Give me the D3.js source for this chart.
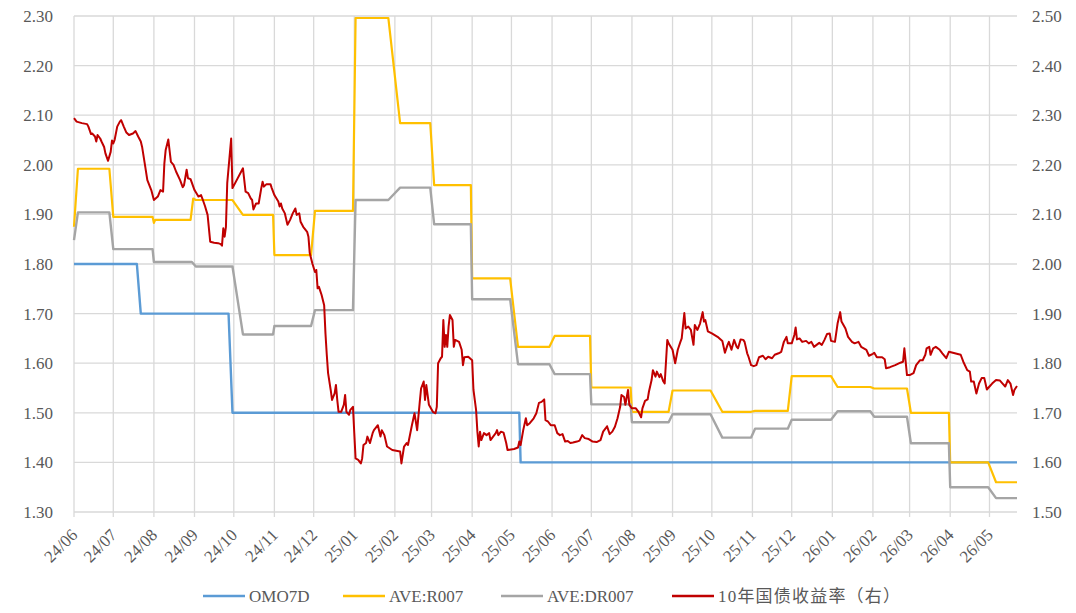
<!DOCTYPE html>
<html>
<head>
<meta charset="utf-8">
<script src="https://cdn.jsdelivr.net/npm/d3@7"></script>
<style>
  body { margin: 0; background: #fff; }
  #chart { width: 1076px; height: 613px; }
</style>
</head>
<body>
<div id="chart"></div>
<script>
// month tick labels on the x axis
var monthLabels = ["24/06","24/07","24/08","24/09","24/10","24/11","24/12","25/01","25/02","25/03","25/04","25/05",
                   "25/06","25/07","25/08","25/09","25/10","25/11","25/12","26/01","26/02","26/03","26/04","26/05"];
var monthStarts = ["2024-06-01","2024-07-01","2024-08-01","2024-09-01","2024-10-01","2024-11-01","2024-12-01",
                   "2025-01-01","2025-02-01","2025-03-01","2025-04-01","2025-05-01","2025-06-01","2025-07-01",
                   "2025-08-01","2025-09-01","2025-10-01","2025-11-01","2025-12-01","2026-01-01","2026-02-01",
                   "2026-03-01","2026-04-01","2026-05-01"];
var leftTicks = [1.30,1.40,1.50,1.60,1.70,1.80,1.90,2.00,2.10,2.20,2.30];
var rightTicks = [1.50,1.60,1.70,1.80,1.90,2.00,2.10,2.20,2.30,2.40,2.50];

var seriesNames = ["OMO7D", "AVE:R007", "AVE:DR007", "10年国债收益率（右）"];
var seriesColors = ["#5B9BD5", "#FFC000", "#A5A5A5", "#C00000"];

// OMO 7-day reverse repo rate (left axis)
var omo7d = [["2024-06-01",1.80],["2024-07-19",1.80],["2024-07-22",1.70],["2024-09-27",1.70],["2024-09-30",1.50],
             ["2025-05-07",1.50],["2025-05-08",1.40],["2026-05-22",1.40]];

// R007 monthly average (left axis)
var r007 = [["2024-06-01",1.875],["2024-06-04",1.992],["2024-06-28",1.992],["2024-07-01",1.895],["2024-07-31",1.895],
            ["2024-08-01",1.883],["2024-08-02",1.889],["2024-08-29",1.889],["2024-08-31",1.932],["2024-09-02",1.929],
            ["2024-09-30",1.929],["2024-10-08",1.899],["2024-10-31",1.899],["2024-11-01",1.818],["2024-11-29",1.818],
            ["2024-12-02",1.907],["2024-12-31",1.907],["2025-01-02",2.296],["2025-01-27",2.296],["2025-02-05",2.084],
            ["2025-02-28",2.084],["2025-03-03",1.959],["2025-03-31",1.959],["2025-04-01",1.771],["2025-04-30",1.771],
            ["2025-05-06",1.633],["2025-05-30",1.633],["2025-06-03",1.655],["2025-06-30",1.655],["2025-07-01",1.551],
            ["2025-07-31",1.551],["2025-08-01",1.502],["2025-08-29",1.502],["2025-09-01",1.545],["2025-09-30",1.545],
            ["2025-10-09",1.502],["2025-10-31",1.502],["2025-11-03",1.504],["2025-11-28",1.504],["2025-12-01",1.574],
            ["2025-12-31",1.574],["2026-01-05",1.552],["2026-01-30",1.552],["2026-02-02",1.549],["2026-02-27",1.549],
            ["2026-03-02",1.500],["2026-03-31",1.500],["2026-04-01",1.400],["2026-04-30",1.400],["2026-05-06",1.360],
            ["2026-05-22",1.360]];

// DR007 monthly average (left axis)
var dr007 = [["2024-06-01",1.848],["2024-06-04",1.904],["2024-06-28",1.904],["2024-07-01",1.830],["2024-07-31",1.830],
             ["2024-08-01",1.804],["2024-08-30",1.804],["2024-09-02",1.795],["2024-09-30",1.795],["2024-10-08",1.658],
             ["2024-10-31",1.658],["2024-11-01",1.675],["2024-11-29",1.675],["2024-12-02",1.707],["2024-12-31",1.707],
             ["2025-01-02",1.929],["2025-01-27",1.929],["2025-02-05",1.954],["2025-02-28",1.954],["2025-03-03",1.880],
             ["2025-03-31",1.880],["2025-04-01",1.729],["2025-04-30",1.729],["2025-05-06",1.598],["2025-05-30",1.598],
             ["2025-06-03",1.578],["2025-06-30",1.578],["2025-07-01",1.517],["2025-07-31",1.517],["2025-08-01",1.481],
             ["2025-08-29",1.481],["2025-09-01",1.497],["2025-09-30",1.497],["2025-10-09",1.450],["2025-10-31",1.450],
             ["2025-11-03",1.468],["2025-11-28",1.468],["2025-12-01",1.486],["2025-12-31",1.486],["2026-01-05",1.503],
             ["2026-01-30",1.503],["2026-02-02",1.492],["2026-02-27",1.492],["2026-03-02",1.4385],["2026-03-31",1.4385],
             ["2026-04-01",1.350],["2026-04-30",1.350],["2026-05-06",1.328],["2026-05-22",1.328]];

// 10Y government bond yield (right axis)
var cgb10y = [
  ["2024-06-01",2.294],["2024-06-03",2.287],["2024-06-07",2.284],["2024-06-11",2.282],["2024-06-12",2.277],
  ["2024-06-14",2.262],["2024-06-15",2.263],["2024-06-17",2.257],["2024-06-18",2.247],["2024-06-19",2.260],
  ["2024-06-21",2.253],["2024-06-22",2.247],["2024-06-24",2.236],["2024-06-25",2.223],["2024-06-27",2.208],
  ["2024-06-29",2.226],["2024-06-30",2.249],["2024-07-01",2.243],["2024-07-02",2.250],["2024-07-04",2.277],
  ["2024-07-06",2.287],["2024-07-07",2.290],["2024-07-09",2.277],["2024-07-11",2.265],["2024-07-13",2.260],
  ["2024-07-16",2.263],["2024-07-18",2.268],["2024-07-20",2.257],["2024-07-22",2.247],["2024-07-23",2.236],
  ["2024-07-25",2.203],["2024-07-27",2.169],["2024-07-30",2.149],["2024-08-01",2.129],["2024-08-04",2.136],
  ["2024-08-06",2.149],["2024-08-08",2.146],["2024-08-09",2.203],["2024-08-10",2.230],["2024-08-12",2.251],
  ["2024-08-14",2.206],["2024-08-16",2.200],["2024-08-18",2.186],["2024-08-21",2.169],["2024-08-23",2.155],
  ["2024-08-24",2.159],["2024-08-26",2.190],["2024-08-27",2.173],["2024-08-29",2.171],["2024-09-01",2.149],
  ["2024-09-04",2.136],["2024-09-06",2.139],["2024-09-07",2.132],["2024-09-09",2.117],["2024-09-11",2.099],
  ["2024-09-13",2.045],["2024-09-16",2.043],["2024-09-19",2.042],["2024-09-21",2.040],["2024-09-22",2.037],
  ["2024-09-23",2.072],["2024-09-24",2.055],["2024-09-25",2.075],["2024-09-26",2.163],["2024-09-29",2.253],
  ["2024-09-30",2.153],["2024-10-08",2.193],["2024-10-10",2.146],["2024-10-12",2.143],["2024-10-14",2.132],
  ["2024-10-15",2.129],["2024-10-16",2.110],["2024-10-18",2.122],["2024-10-20",2.122],["2024-10-22",2.153],
  ["2024-10-23",2.166],["2024-10-24",2.156],["2024-10-26",2.161],["2024-10-29",2.161],["2024-10-30",2.153],
  ["2024-11-01",2.139],["2024-11-04",2.126],["2024-11-05",2.116],["2024-11-06",2.122],["2024-11-07",2.112],
  ["2024-11-09",2.102],["2024-11-11",2.079],["2024-11-13",2.089],["2024-11-15",2.102],["2024-11-17",2.112],
  ["2024-11-18",2.099],["2024-11-20",2.102],["2024-11-21",2.085],["2024-11-23",2.075],["2024-11-26",2.065],
  ["2024-11-27",2.055],["2024-11-28",2.022],["2024-11-30",2.001],["2024-12-02",1.984],["2024-12-03",1.988],
  ["2024-12-04",1.951],["2024-12-05",1.954],["2024-12-07",1.938],["2024-12-09",1.917],["2024-12-10",1.860],
  ["2024-12-11",1.817],["2024-12-12",1.780],["2024-12-14",1.746],["2024-12-15",1.726],["2024-12-17",1.739],
  ["2024-12-18",1.756],["2024-12-19",1.726],["2024-12-20",1.702],["2024-12-22",1.702],["2024-12-24",1.716],
  ["2024-12-25",1.736],["2024-12-26",1.702],["2024-12-28",1.696],["2024-12-29",1.706],["2024-12-31",1.712],
  ["2025-01-01",1.659],["2025-01-02",1.608],["2025-01-04",1.605],["2025-01-06",1.598],["2025-01-07",1.608],
  ["2025-01-08",1.635],["2025-01-10",1.639],["2025-01-11",1.652],["2025-01-13",1.639],["2025-01-15",1.659],
  ["2025-01-16",1.665],["2025-01-19",1.675],["2025-01-21",1.652],["2025-01-22",1.665],["2025-01-24",1.655],
  ["2025-01-26",1.632],["2025-01-30",1.625],["2025-02-05",1.622],["2025-02-06",1.598],["2025-02-08",1.632],
  ["2025-02-10",1.639],["2025-02-11",1.635],["2025-02-14",1.675],["2025-02-16",1.699],["2025-02-18",1.665],
  ["2025-02-20",1.722],["2025-02-21",1.749],["2025-02-23",1.763],["2025-02-24",1.726],["2025-02-25",1.756],
  ["2025-02-27",1.716],["2025-03-02",1.702],["2025-03-04",1.699],["2025-03-05",1.712],["2025-03-06",1.800],
  ["2025-03-08",1.810],["2025-03-09",1.813],["2025-03-10",1.887],["2025-03-11",1.833],["2025-03-12",1.857],
  ["2025-03-13",1.833],["2025-03-14",1.874],["2025-03-15",1.897],["2025-03-17",1.887],["2025-03-18",1.833],
  ["2025-03-19",1.847],["2025-03-22",1.843],["2025-03-24",1.827],["2025-03-25",1.796],["2025-03-26",1.812],
  ["2025-03-29",1.813],["2025-04-01",1.806],["2025-04-02",1.746],["2025-04-04",1.706],["2025-04-05",1.662],
  ["2025-04-06",1.632],["2025-04-07",1.662],["2025-04-08",1.645],["2025-04-10",1.659],["2025-04-12",1.655],
  ["2025-04-14",1.659],["2025-04-15",1.645],["2025-04-17",1.652],["2025-04-19",1.659],["2025-04-20",1.665],
  ["2025-04-21",1.655],["2025-04-23",1.662],["2025-04-25",1.660],["2025-04-27",1.639],["2025-04-28",1.625],
  ["2025-05-03",1.627],["2025-05-06",1.630],["2025-05-07",1.642],["2025-05-08",1.635],["2025-05-10",1.665],
  ["2025-05-12",1.689],["2025-05-13",1.675],["2025-05-15",1.679],["2025-05-18",1.689],["2025-05-20",1.699],
  ["2025-05-22",1.720],["2025-05-24",1.722],["2025-05-26",1.727],["2025-05-27",1.685],["2025-05-29",1.682],
  ["2025-05-31",1.675],["2025-06-03",1.675],["2025-06-05",1.659],["2025-06-07",1.655],["2025-06-09",1.657],
  ["2025-06-11",1.642],["2025-06-13",1.643],["2025-06-15",1.639],["2025-06-17",1.640],["2025-06-20",1.642],
  ["2025-06-22",1.644],["2025-06-24",1.655],["2025-06-26",1.649],["2025-06-29",1.647],["2025-07-02",1.642],
  ["2025-07-05",1.641],["2025-07-08",1.645],["2025-07-10",1.662],["2025-07-12",1.669],["2025-07-13",1.673],
  ["2025-07-15",1.657],["2025-07-17",1.662],["2025-07-19",1.672],["2025-07-21",1.689],["2025-07-23",1.712],
  ["2025-07-24",1.736],["2025-07-26",1.732],["2025-07-27",1.716],["2025-07-29",1.746],["2025-07-30",1.716],
  ["2025-08-01",1.709],["2025-08-04",1.709],["2025-08-06",1.702],["2025-08-08",1.691],["2025-08-09",1.709],
  ["2025-08-11",1.724],["2025-08-13",1.727],["2025-08-14",1.743],["2025-08-16",1.766],["2025-08-17",1.786],
  ["2025-08-19",1.773],["2025-08-20",1.783],["2025-08-22",1.772],["2025-08-23",1.778],["2025-08-25",1.763],
  ["2025-08-26",1.759],["2025-08-28",1.847],["2025-08-29",1.840],["2025-09-01",1.827],["2025-09-03",1.800],
  ["2025-09-05",1.827],["2025-09-07",1.843],["2025-09-08",1.850],["2025-09-10",1.901],["2025-09-11",1.870],
  ["2025-09-13",1.874],["2025-09-15",1.867],["2025-09-17",1.837],["2025-09-18",1.877],["2025-09-20",1.867],
  ["2025-09-22",1.880],["2025-09-24",1.903],["2025-09-25",1.884],["2025-09-26",1.887],["2025-09-28",1.864],
  ["2025-10-01",1.860],["2025-10-06",1.852],["2025-10-09",1.845],["2025-10-11",1.821],["2025-10-13",1.837],
  ["2025-10-14",1.843],["2025-10-16",1.827],["2025-10-18",1.847],["2025-10-20",1.833],["2025-10-21",1.830],
  ["2025-10-23",1.848],["2025-10-25",1.847],["2025-10-26",1.843],["2025-10-28",1.820],["2025-10-29",1.813],
  ["2025-10-31",1.796],["2025-11-02",1.794],["2025-11-04",1.796],["2025-11-06",1.812],["2025-11-09",1.815],
  ["2025-11-11",1.808],["2025-11-13",1.813],["2025-11-16",1.810],["2025-11-18",1.817],["2025-11-21",1.820],
  ["2025-11-23",1.823],["2025-11-25",1.843],["2025-11-27",1.853],["2025-11-28",1.840],["2025-12-01",1.840],
  ["2025-12-03",1.857],["2025-12-04",1.872],["2025-12-05",1.848],["2025-12-07",1.850],["2025-12-09",1.843],
  ["2025-12-12",1.845],["2025-12-14",1.840],["2025-12-16",1.843],["2025-12-18",1.833],["2025-12-20",1.837],
  ["2025-12-22",1.841],["2025-12-24",1.837],["2025-12-26",1.847],["2025-12-28",1.859],["2025-12-30",1.860],
  ["2025-12-31",1.845],["2026-01-03",1.843],["2026-01-05",1.880],["2026-01-07",1.903],["2026-01-08",1.884],
  ["2026-01-11",1.870],["2026-01-13",1.853],["2026-01-16",1.843],["2026-01-18",1.840],["2026-01-21",1.843],
  ["2026-01-23",1.833],["2026-01-25",1.830],["2026-01-27",1.827],["2026-01-29",1.815],["2026-02-01",1.819],
  ["2026-02-02",1.821],["2026-02-04",1.812],["2026-02-08",1.812],["2026-02-10",1.808],["2026-02-11",1.790],
  ["2026-02-14",1.792],["2026-02-18",1.796],["2026-02-22",1.801],["2026-02-24",1.803],["2026-02-25",1.830],
  ["2026-02-27",1.776],["2026-03-01",1.776],["2026-03-04",1.780],["2026-03-06",1.796],["2026-03-09",1.806],
  ["2026-03-11",1.806],["2026-03-13",1.817],["2026-03-14",1.830],["2026-03-16",1.833],["2026-03-17",1.817],
  ["2026-03-19",1.830],["2026-03-21",1.833],["2026-03-24",1.827],["2026-03-26",1.820],["2026-03-29",1.810],
  ["2026-03-31",1.823],["2026-04-03",1.821],["2026-04-06",1.819],["2026-04-09",1.817],["2026-04-11",1.803],
  ["2026-04-14",1.786],["2026-04-16",1.783],["2026-04-17",1.763],["2026-04-19",1.763],["2026-04-21",1.739],
  ["2026-04-23",1.759],["2026-04-25",1.770],["2026-04-27",1.770],["2026-04-29",1.747],["2026-05-01",1.753],
  ["2026-05-03",1.759],["2026-05-06",1.766],["2026-05-09",1.765],["2026-05-11",1.759],["2026-05-13",1.753],
  ["2026-05-15",1.766],["2026-05-17",1.759],["2026-05-19",1.736],["2026-05-20",1.746],["2026-05-22",1.754]
];

var SERIF = "'Liberation Serif', 'Times New Roman', serif";
var CJK = "'Liberation Serif', 'Noto Sans CJK SC', serif";

function RateChart() {
    var self = this;
    var parse = d3.timeParse("%Y-%m-%d");

    // SIZES
    this.width = 1076;
    this.height = 613;
    this.c_margin = {top: 16, right: 59, bottom: 101, left: 74};

    this.styleText = function(sel, family, size) {
        sel.attr("fill", "#595959")
            .style("font-family", family || SERIF)
            .style("font-size", (size || 17) + "px");
    }

    this.draw = function(div_id) {
        var m = this.c_margin;
        var startDate = parse("2024-06-01"), endDate = parse("2026-05-22");

        this.svg = d3.select(div_id).append("svg")
            .attr("width", this.width)
            .attr("height", this.height);

        this.x = d3.scaleTime().domain([startDate, endDate]).range([m.left, this.width - m.right]);
        this.yl = d3.scaleLinear().domain([1.3, 2.3]).range([this.height - m.bottom, m.top]);
        this.yr = d3.scaleLinear().domain([1.5, 2.5]).range([this.height - m.bottom, m.top]);

        var ticksX = monthStarts.map(parse);
        var bottom = this.height - m.bottom;

        /* GRID */
        var grid = this.svg.append("g").attr("stroke", "#D9D9D9").attr("stroke-width", 1.3);
        grid.selectAll(".hg").data(leftTicks).enter().append("line")
            .attr("x1", m.left).attr("x2", this.width - m.right)
            .attr("y1", function(d) { return self.yl(d); })
            .attr("y2", function(d) { return self.yl(d); });
        grid.selectAll(".vg").data(ticksX).enter().append("line")
            .attr("x1", function(d) { return self.x(d); })
            .attr("x2", function(d) { return self.x(d); })
            .attr("y1", m.top).attr("y2", bottom + 5);

        /* AXES */
        var ax = this.svg.append("g")
            .attr("transform", "translate(0," + bottom + ")")
            .call(d3.axisBottom(this.x).tickValues(ticksX).tickSize(0).tickFormat(function(d, i) { return monthLabels[i]; }));
        ax.select(".domain").remove();
        ax.selectAll("text")
            .call(this.styleText)
            .attr("text-anchor", "end")
            .attr("dy", null)
            .attr("y", 0)
            .attr("transform", "translate(4,24) rotate(-45)");

        var al = this.svg.append("g")
            .attr("transform", "translate(" + m.left + ",0)")
            .call(d3.axisLeft(this.yl).tickValues(leftTicks).tickSize(0).tickPadding(21).tickFormat(d3.format(".2f")));
        al.select(".domain").remove();
        al.selectAll("text").call(this.styleText);

        var ar = this.svg.append("g")
            .attr("transform", "translate(" + (this.width - m.right) + ",0)")
            .call(d3.axisRight(this.yr).tickValues(rightTicks).tickSize(0).tickPadding(15).tickFormat(d3.format(".2f")));
        ar.select(".domain").remove();
        ar.selectAll("text").call(this.styleText);

        /* SERIES */
        var lineL = d3.line()
            .x(function(d) { return self.x(parse(d[0])); })
            .y(function(d) { return self.yl(d[1]); });
        var lineR = d3.line()
            .x(function(d) { return self.x(parse(d[0])); })
            .y(function(d) { return self.yr(d[1]); });

        var sets = [[omo7d, lineL, 2.4], [r007, lineL, 2.2], [dr007, lineL, 2.4], [cgb10y, lineR, 2]];
        sets.forEach(function(s, i) {
            self.svg.append("path")
                .datum(s[0])
                .attr("fill", "none")
                .attr("stroke", seriesColors[i])
                .attr("stroke-width", s[2])
                .attr("stroke-linejoin", "round")
                .attr("d", s[1]);
        });

        /* LEGEND */
        var legendX = [203, 343, 501, 672];
        var legend = this.svg.append("g").selectAll("g")
            .data(seriesNames)
            .enter().append("g")
                .attr("transform", function(d, i) { return "translate(" + legendX[i] + ",596)"; });
        legend.append("line")
            .attr("x1", 0).attr("x2", 42)
            .attr("stroke", function(d, i) { return seriesColors[i]; })
            .attr("stroke-width", 2.4);
        legend.append("text")
            .attr("x", 46)
            .attr("y", 6)
            .text(function(d) { return d; })
            .each(function(d, i) {
                self.styleText(d3.select(this), i == 3 ? CJK : SERIF, 17);
                if (i == 3) d3.select(this).style("letter-spacing", "1.2px");
            });
    }
}

var chart = new RateChart();
chart.draw("#chart");
</script>
</body>
</html>
